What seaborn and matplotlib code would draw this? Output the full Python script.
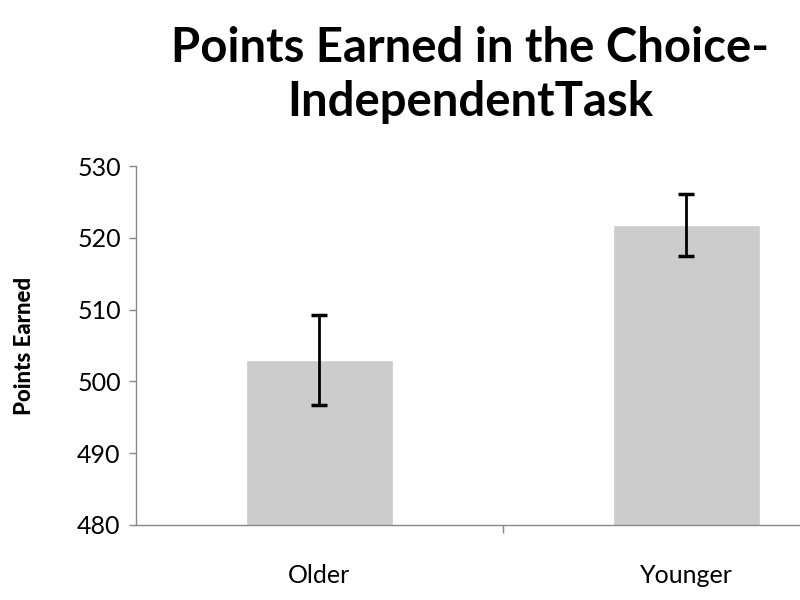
import matplotlib
matplotlib.use("Agg")
import matplotlib.pyplot as plt
import seaborn as sns
import pandas as pd

groups = ["Older", "Younger"]
points = [503.0, 521.8]
errors = [6.3, 4.3]
yticks = [480, 490, 500, 510, 520, 530]

sns.set_style("white")
plt.rcParams['font.family'] = ['Lato', 'DejaVu Sans']
plt.rcParams['text.color'] = 'black'
plt.rcParams['xtick.color'] = 'black'
plt.rcParams['ytick.color'] = 'black'

df = pd.DataFrame({"group": groups, "points": points})

fig = plt.figure(figsize=(8, 6), dpi=100)
ax = fig.add_axes([0.17, 0.125, 0.917, 0.5983])
sns.barplot(data=df, x="group", y="points", color="#cccccc", width=0.4,
            saturation=1, ax=ax, errorbar=None)
ax.errorbar(range(len(groups)), points, yerr=errors, fmt="none",
            ecolor="black", elinewidth=2, capsize=6, capthick=2.5)
ax.set_ylim(480, 530)
ax.set_xlim(-0.5, 1.5)
ax.set_yticks(yticks)
ax.set_yticklabels([str(t) for t in yticks], fontsize=18)
ax.set_xticks([0.5], minor=False)
ax.set_xticklabels([""])
for i, g in enumerate(groups):
    ax.text(i, 473, g, ha="center", va="center", fontsize=18)
ax.tick_params(axis="y", length=5, color="#888888", width=1, pad=6, left=True)
ax.tick_params(axis="x", length=6, color="#888888", width=1, bottom=True)
for s in ["top", "right"]:
    ax.spines[s].set_visible(False)
for s in ["left", "bottom"]:
    ax.spines[s].set_color("#888888")
    ax.spines[s].set_linewidth(1)
ax.set_xlabel("")
ax.set_ylabel("Points Earned", fontsize=16, fontweight=900, labelpad=30,
              color="black")
fig.text(0.588, 0.875, "Points Earned in the Choice-\nIndependentTask",
         ha="center", va="center", fontsize=34, fontweight="bold", linespacing=1.25)
fig.savefig("out.png", dpi=100)
